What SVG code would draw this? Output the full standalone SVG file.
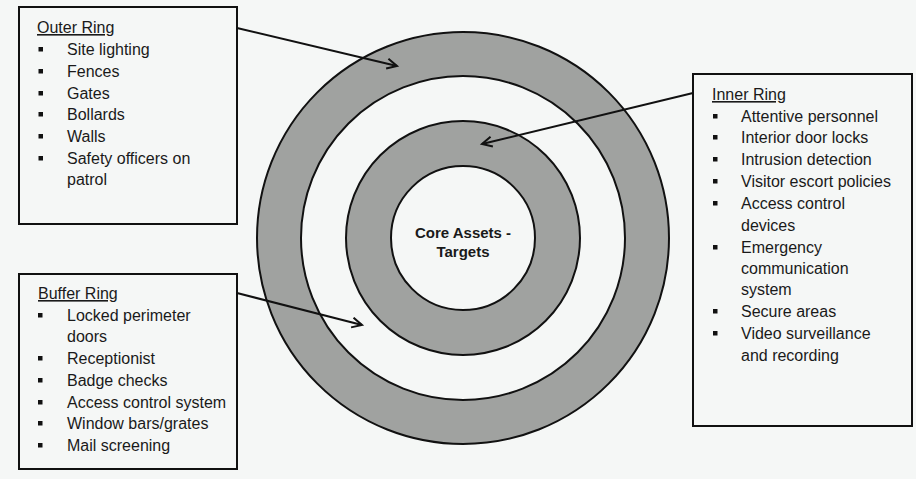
<svg xmlns="http://www.w3.org/2000/svg" width="916" height="479" viewBox="0 0 916 479">
<defs>
<style>
.bg{fill:#f5f7f6}
.ring{fill:#a0a2a0;stroke:#111;stroke-width:2}
.gap{fill:#f5f7f6;stroke:#111;stroke-width:2}
.box{fill:#f5f7f6;stroke:#111;stroke-width:2}
text{font-family:"Liberation Sans",Arial,sans-serif;font-size:16px;fill:#1a1a1a}
.hd{text-decoration:underline}
.core{font-weight:bold;font-size:15px;text-anchor:middle}
.b{fill:#111}
.conn{stroke:#111;stroke-width:2;fill:none;marker-end:url(#arr)}
</style>
<marker id="arr" markerUnits="userSpaceOnUse" markerWidth="14" markerHeight="14" refX="11" refY="6" orient="auto">
<path d="M1,1 L11,6 L1,11" fill="none" stroke="#111" stroke-width="2"/>
</marker>
</defs>
<rect class="bg" x="0" y="0" width="916" height="479"/>
<g id="target">
<circle class="ring" cx="463" cy="238" r="206"/>
<circle class="gap" cx="463" cy="238" r="162"/>
<circle class="ring" cx="463" cy="238" r="117"/>
<circle class="gap" cx="463" cy="238" r="72"/>
<text class="core" x="463" y="238">Core Assets -</text>
<text class="core" x="463" y="257">Targets</text>
</g>
<g id="outer-ring">
<rect class="box" x="19" y="7" width="218" height="217"/>
<text class="hd" x="37" y="33">Outer Ring</text>
<rect class="b" x="38.5" y="47" width="4.5" height="4.5"/><text x="67" y="55">Site lighting</text>
<rect class="b" x="38.5" y="69" width="4.5" height="4.5"/><text x="67" y="77">Fences</text>
<rect class="b" x="38.5" y="91" width="4.5" height="4.5"/><text x="67" y="99">Gates</text>
<rect class="b" x="38.5" y="112" width="4.5" height="4.5"/><text x="67" y="120">Bollards</text>
<rect class="b" x="38.5" y="134" width="4.5" height="4.5"/><text x="67" y="142">Walls</text>
<rect class="b" x="38.5" y="156" width="4.5" height="4.5"/><text x="67" y="164">Safety officers on</text>
<text x="67" y="185">patrol</text>
</g>
<g id="inner-ring">
<rect class="box" x="693" y="74" width="219" height="352"/>
<text class="hd" x="712" y="100">Inner Ring</text>
<rect class="b" x="713" y="114" width="4.5" height="4.5"/><text x="741" y="122">Attentive personnel</text>
<rect class="b" x="713" y="135" width="4.5" height="4.5"/><text x="741" y="143">Interior door locks</text>
<rect class="b" x="713" y="157" width="4.5" height="4.5"/><text x="741" y="165">Intrusion detection</text>
<rect class="b" x="713" y="179" width="4.5" height="4.5"/><text x="741" y="187">Visitor escort policies</text>
<rect class="b" x="713" y="201" width="4.5" height="4.5"/><text x="741" y="209">Access control</text>
<text x="741" y="231">devices</text>
<rect class="b" x="713" y="245" width="4.5" height="4.5"/><text x="741" y="253">Emergency</text>
<text x="741" y="274">communication</text>
<text x="741" y="295">system</text>
<rect class="b" x="713" y="309" width="4.5" height="4.5"/><text x="741" y="317">Secure areas</text>
<rect class="b" x="713" y="331" width="4.5" height="4.5"/><text x="741" y="339">Video surveillance</text>
<text x="741" y="361">and recording</text>
</g>
<g id="buffer-ring">
<rect class="box" x="19" y="274" width="218" height="195"/>
<text class="hd" x="38" y="299">Buffer Ring</text>
<rect class="b" x="38" y="313" width="4.5" height="4.5"/><text x="67" y="321">Locked perimeter</text>
<text x="67" y="342">doors</text>
<rect class="b" x="38" y="356" width="4.5" height="4.5"/><text x="67" y="364">Receptionist</text>
<rect class="b" x="38" y="378" width="4.5" height="4.5"/><text x="67" y="386">Badge checks</text>
<rect class="b" x="38" y="400" width="4.5" height="4.5"/><text x="67" y="408">Access control system</text>
<rect class="b" x="38" y="421" width="4.5" height="4.5"/><text x="67" y="429">Window bars/grates</text>
<rect class="b" x="38" y="443" width="4.5" height="4.5"/><text x="67" y="451">Mail screening</text>
</g>
<g id="connectors">
<line class="conn" x1="237" y1="28" x2="397" y2="66"/>
<line class="conn" x1="693" y1="93" x2="482" y2="144"/>
<line class="conn" x1="237" y1="293" x2="362" y2="325"/>
</g>
</svg>
